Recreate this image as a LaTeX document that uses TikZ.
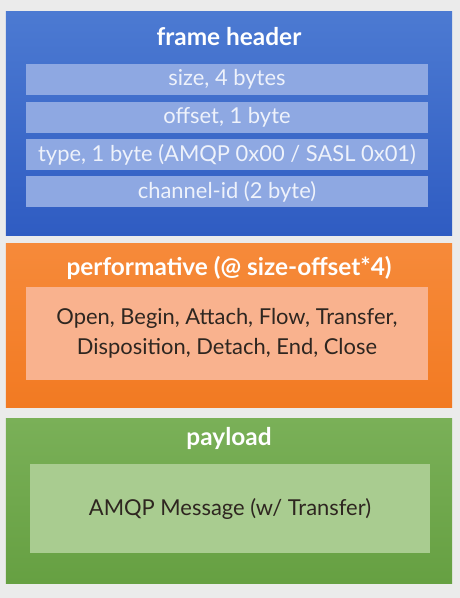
\documentclass[tikz,border=0pt]{standalone}
\usepackage{fontspec}
\setmainfont{Lato}
\definecolor{paper}{HTML}{EBEBEB}
\definecolor{blueTop}{HTML}{4C7AD2}
\definecolor{blueBot}{HTML}{2F5CC2}
\definecolor{blueRow}{HTML}{8EA8E2}
\definecolor{blueRowTxt}{HTML}{EEF2FB}
\definecolor{orangeTop}{HTML}{F68A3A}
\definecolor{orangeBot}{HTML}{F27A22}
\definecolor{orangeIn}{HTML}{F9B28E}
\definecolor{greenTop}{HTML}{7AB058}
\definecolor{greenBot}{HTML}{66A042}
\definecolor{greenIn}{HTML}{A9CC90}
\definecolor{darkTxt}{HTML}{2E2620}
\begin{document}
\begin{tikzpicture}[x=1bp,y=-1bp,
  outerbox/.style={draw=none,minimum width=446bp,inner sep=0pt},
  rowbox/.style={fill=blueRow,minimum width=402bp,minimum height=31bp,inner sep=0pt,
    text=blueRowTxt,font=\fontsize{22}{25}\selectfont},
  titletxt/.style={text=white,font=\bfseries\fontsize{24.5}{28}\selectfont,inner sep=0pt},
  innerbox/.style={minimum width=402bp,inner sep=0pt,text=darkTxt,align=center,
    font=\fontsize{22}{30}\selectfont}]
\fill[paper] (0,0) rectangle (460,598);
\useasboundingbox (0,0) rectangle (460,598);

% frame header block
\node[outerbox,minimum height=223bp,top color=blueTop,bottom color=blueBot] (hdr) at (229,123.5) {};
\node[titletxt] (hdrT) at (229,37) {frame header};
\node[rowbox] (size) at (227,79.5) {size, 4 bytes};
\node[rowbox] (offs) at (227,117.5) {offset, 1 byte};
\node[rowbox] (type) at (227,154.5) {type, 1 byte (AMQP 0x00 / SASL 0x01)};
\node[rowbox] (chan) at (227,191.5) {channel-id (2 byte)};

% performative block
\node[outerbox,minimum height=164bp,top color=orangeTop,bottom color=orangeBot] (perf) at (229,325) {};
\node[titletxt] (perfT) at (229,268) {performative (@ size-offset*4)};
\node[innerbox,fill=orangeIn,minimum height=93bp] (perfIn) at (227,333.5)
  {Open, Begin, Attach, Flow, Transfer,\\Disposition, Detach, End, Close};

% payload block
\node[outerbox,minimum height=165bp,top color=greenTop,bottom color=greenBot] (pay) at (229,500.5) {};
\node[titletxt] (payT) at (229,438) {payload};
\node[innerbox,fill=greenIn,minimum width=400bp,minimum height=89bp] (payIn) at (230,508.5)
  {AMQP Message (w/ Transfer)};
\end{tikzpicture}
\end{document}
